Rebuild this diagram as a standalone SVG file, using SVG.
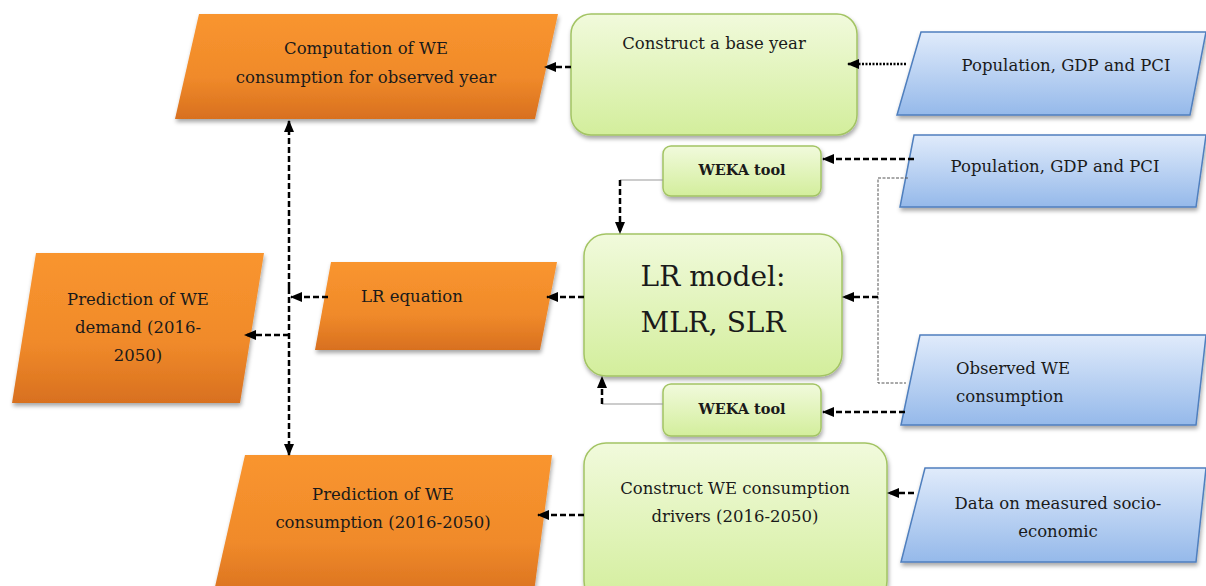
<svg xmlns="http://www.w3.org/2000/svg" width="1206" height="586" viewBox="0 0 1206 586">
<defs>
<linearGradient id="gOr" x1="0" y1="0" x2="0" y2="1"><stop offset="0" stop-color="#f9952f"/><stop offset="0.6" stop-color="#f08a2a"/><stop offset="1" stop-color="#d8701f"/></linearGradient>
<linearGradient id="gGr" x1="0" y1="0" x2="0" y2="1"><stop offset="0" stop-color="#f1fadc"/><stop offset="1" stop-color="#d3ee9c"/></linearGradient>
<linearGradient id="gBl" x1="0" y1="0" x2="0" y2="1"><stop offset="0" stop-color="#e0ebfb"/><stop offset="1" stop-color="#95b9ea"/></linearGradient>
<filter id="sh" x="-10%" y="-10%" width="125%" height="130%"><feDropShadow dx="1" dy="3" stdDeviation="2" flood-color="#000" flood-opacity="0.35"/></filter>
<marker id="ah" viewBox="0 0 12 10" refX="11" refY="5" markerWidth="12" markerHeight="10" markerUnits="userSpaceOnUse" orient="auto"><path d="M0,0 L12,5 L0,10 Z" fill="#000"/></marker>
<style>
.or{fill:url(#gOr);filter:url(#sh)}
.gr{fill:url(#gGr);stroke:#a3c464;stroke-width:1.5;filter:url(#sh)}
.bl{fill:url(#gBl);stroke:#4f7fbe;stroke-width:1.5;filter:url(#sh)}
text{font-family:"DejaVu Serif","Liberation Serif",serif;font-size:16.5px;fill:#1a1a1a;text-anchor:middle}
.b{font-weight:bold;font-size:14.5px}
.big{font-size:28px}
.l{text-anchor:start}
.d{fill:none;stroke:#000;stroke-width:2.5;stroke-dasharray:6 3}
.dot{fill:none;stroke:#000;stroke-width:2.5;stroke-dasharray:2 1.5}
.thin{fill:none;stroke:#555;stroke-width:1;stroke-dasharray:3 1.5}
.gl{fill:none;stroke:#999;stroke-width:1}
</style>
</defs>
<rect width="1206" height="586" fill="#fff"/>

<g id="comp-observed">
<polygon class="or" points="199,14 558,14 535,119 175,119"/>
<text x="366" y="54">Computation of WE</text>
<text x="366" y="83">consumption for observed year</text>
</g>

<g id="base-year">
<rect class="gr" x="571" y="14" width="286" height="121" rx="20"/>
<text x="714" y="49">Construct a base year</text>
</g>

<g id="pop1">
<polygon class="bl" points="921,32 1206,32 1190,115 897,115"/>
<text x="1066" y="71">Population, GDP and PCI</text>
</g>

<g id="weka1">
<rect class="gr" x="663" y="146" width="158" height="50" rx="8"/>
<text class="b" x="742" y="175">WEKA tool</text>
</g>

<g id="pop2">
<polygon class="bl" points="914,135 1206,135 1196,207 900,207"/>
<text x="1055" y="172">Population, GDP and PCI</text>
</g>

<g id="lr-model">
<rect class="gr" x="584" y="234" width="258" height="142" rx="22"/>
<text class="big" x="713" y="286">LR model:</text>
<text class="big" x="713" y="332">MLR, SLR</text>
</g>

<g id="observed">
<polygon class="bl" points="920,335 1206,335 1196,425 901,425"/>
<text class="l" x="956" y="374">Observed WE</text>
<text class="l" x="956" y="402">consumption</text>
</g>

<g id="weka2">
<rect class="gr" x="663" y="384" width="158" height="52" rx="8"/>
<text class="b" x="742" y="414">WEKA tool</text>
</g>

<g id="lr-eq">
<polygon class="or" points="331,262 557,262 540,350 315,350"/>
<text x="412" y="302">LR equation</text>
</g>

<g id="pred-demand">
<polygon class="or" points="36,253 264,253 240,403 12,403"/>
<text x="138" y="305">Prediction of WE</text>
<text x="138" y="333">demand (2016-</text>
<text x="138" y="361">2050)</text>
</g>

<g id="pred-cons">
<polygon class="or" points="245,455 552,455 533,600 212,600"/>
<text x="383" y="500">Prediction of WE</text>
<text x="383" y="528">consumption (2016-2050)</text>
</g>

<g id="drivers">
<rect class="gr" x="584" y="443" width="303" height="160" rx="22"/>
<text x="735" y="494">Construct WE consumption</text>
<text x="735" y="522">drivers (2016-2050)</text>
</g>

<g id="socio">
<polygon class="bl" points="925,468 1206,468 1196,562 901,562"/>
<text x="1058" y="509">Data on measured socio-</text>
<text x="1058" y="537">economic</text>
</g>

<g id="connectors">
<path class="dot" d="M906,64 H848" marker-end="url(#ah)"/>
<path class="d" d="M571,67 H545" marker-end="url(#ah)"/>
<path class="d" d="M914,159 H823" marker-end="url(#ah)"/>
<path class="gl" d="M663,180 H620"/>
<path class="d" d="M620,180 V233" marker-end="url(#ah)"/>
<path class="thin" d="M908,178 H878 V383 H906"/>
<path class="d" d="M878,297 H843" marker-end="url(#ah)"/>
<path class="d" d="M905,412 H823" marker-end="url(#ah)"/>
<path class="gl" d="M663,404 H602"/>
<path class="d" d="M602,404 V377" marker-end="url(#ah)"/>
<path class="d" d="M584,297 H547" marker-end="url(#ah)"/>
<path class="d" d="M328,297 H291" marker-end="url(#ah)"/>
<path class="d" d="M289,288 V121" marker-end="url(#ah)"/>
<path class="d" d="M289,288 V455" marker-end="url(#ah)"/>
<path class="d" d="M289,335 H245" marker-end="url(#ah)"/>
<path class="d" d="M914,493 H888" marker-end="url(#ah)"/>
<path class="d" d="M584,515 H538" marker-end="url(#ah)"/>
</g>
</svg>
